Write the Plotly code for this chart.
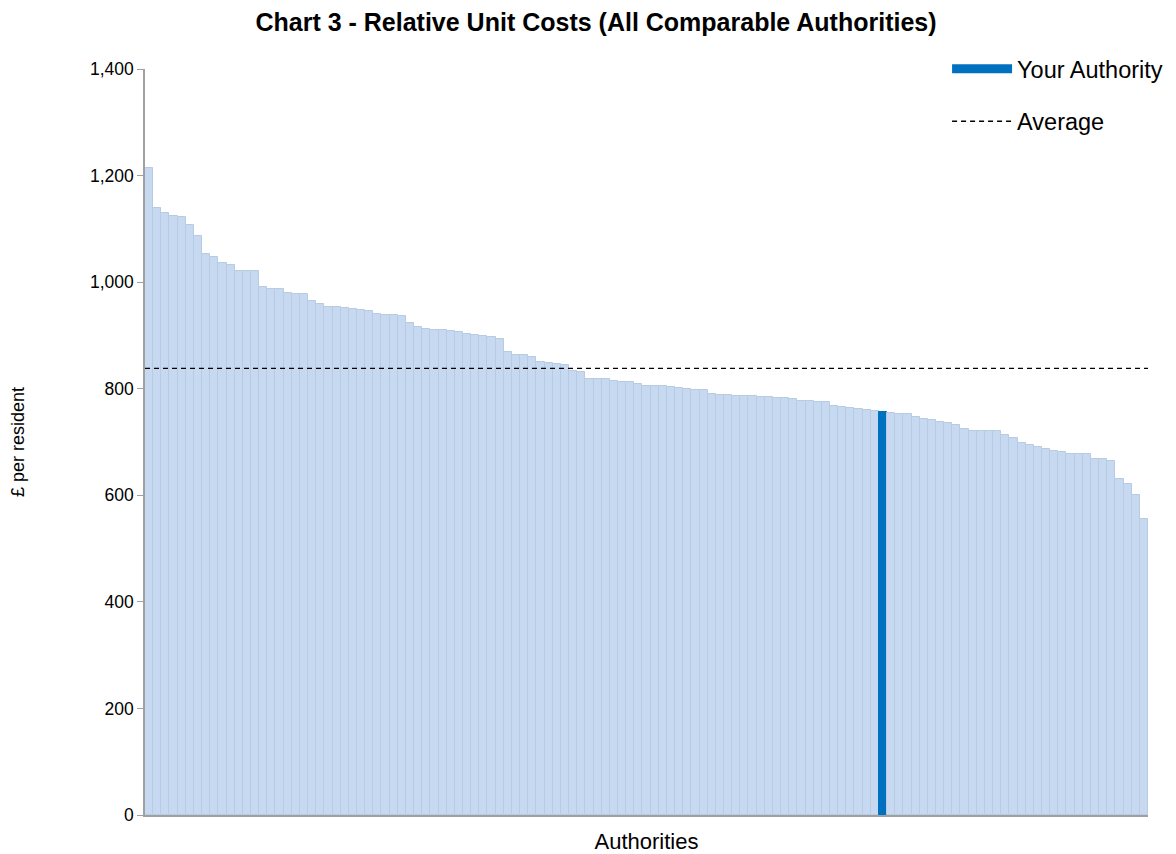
import plotly.graph_objects as go

TITLE = "Chart 3 - Relative Unit Costs (All Comparable Authorities)"
Y_TITLE = "£ per resident"
X_TITLE = "Authorities"

UNIT_COSTS = [
    1214, 1140, 1130, 1125, 1122, 1108, 1087, 1052, 1048, 1036,
    1032, 1020, 1020, 1020, 991, 987, 987, 979, 978, 978,
    965, 959, 953, 953, 952, 950, 948, 945, 941, 938,
    938, 937, 923, 915, 912, 911, 911, 908, 907, 902,
    901, 898, 897, 894, 869, 864, 863, 859, 851, 848,
    846, 844, 834, 831, 819, 819, 818, 814, 813, 812,
    808, 806, 805, 805, 803, 802, 800, 798, 798, 791,
    789, 788, 786, 786, 786, 785, 785, 783, 782, 780,
    777, 777, 776, 775, 767, 765, 764, 762, 761, 759,
    756, 755, 753, 753, 746, 744, 741, 738, 736, 731,
    724, 721, 720, 720, 720, 714, 708, 699, 695, 690,
    686, 684, 681, 678, 677, 677, 669, 669, 665, 631,
    622, 600, 556,
]
AUTHORITIES = [f"Authority {i + 1}" for i in range(len(UNIT_COSTS))]
YOUR_AUTHORITY = "Authority 91"
AVERAGE = 838
Y_TICKS = [0, 200, 400, 600, 800, 1000, 1200, 1400]

FONT = "Liberation Sans, Arial, sans-serif"
BAR_FILL = "#C6D9F0"
BAR_EDGE = "#B7CBE3"
HIGHLIGHT = "#0070C0"
AXIS_GREY = "#A0A0A0"

bar_colors = [HIGHLIGHT if a == YOUR_AUTHORITY else BAR_FILL for a in AUTHORITIES]
edge_colors = [HIGHLIGHT if a == YOUR_AUTHORITY else BAR_EDGE for a in AUTHORITIES]

fig = go.Figure()
fig.add_trace(
    go.Bar(
        x=AUTHORITIES,
        y=UNIT_COSTS,
        marker={"color": bar_colors, "line": {"color": edge_colors, "width": 1}},
        showlegend=False,
        hovertemplate="%{x}: %{y:,}<extra></extra>",
    )
)
# legend-only entry for the highlighted authority
fig.add_trace(
    go.Scatter(
        x=[None],
        y=[None],
        mode="lines",
        name="Your Authority",
        line={"color": HIGHLIGHT, "width": 9},
        legendgroup="a",
    )
)
fig.add_shape(
    type="line",
    xref="paper",
    yref="y",
    x0=0,
    x1=1,
    y0=AVERAGE,
    y1=AVERAGE,
    line={"color": "black", "width": 1.3, "dash": "5px,4px"},
    showlegend=True,
    name="Average",
    legendgroup="b",
)

# page body adds an 8px margin top/left, so the figure is 8px smaller than the window
fig.update_layout(
    width=1168,
    height=846,
    paper_bgcolor="white",
    plot_bgcolor="white",
    bargap=0,
    margin={"l": 137, "r": 28, "t": 61, "b": 39, "autoexpand": False},
    font={"family": FONT, "size": 17.5, "color": "black"},
    title={
        "text": f"<b>{TITLE}</b>",
        "x": 588 / 1168,
        "xanchor": "center",
        "y": 1 - 14 / 846,
        "yanchor": "middle",
        "font": {"family": FONT, "size": 25, "color": "black"},
    },
    legend={
        "xref": "container",
        "yref": "container",
        "x": 0.804,
        "xanchor": "left",
        "y": 0.954,
        "yanchor": "top",
        "itemwidth": 60,
        "tracegroupgap": 19,
        "traceorder": "grouped",
        "font": {"family": FONT, "size": 23.5},
        "bgcolor": "rgba(0,0,0,0)",
    },
)
fig.update_xaxes(
    showticklabels=False,
    showgrid=False,
    showline=True,
    linecolor=AXIS_GREY,
    linewidth=1.5,
    ticks="",
    title={"text": X_TITLE, "standoff": 22, "font": {"size": 22}},
)
fig.update_yaxes(
    range=[0, 1400],
    tickvals=Y_TICKS,
    tickformat=",",
    showgrid=False,
    zeroline=False,
    showline=True,
    linecolor=AXIS_GREY,
    linewidth=1.5,
    ticks="outside",
    ticklen=6,
    tickcolor=AXIS_GREY,
    title={"text": Y_TITLE, "standoff": 62, "font": {"size": 18}},
)

fig.write_html("out.html")
